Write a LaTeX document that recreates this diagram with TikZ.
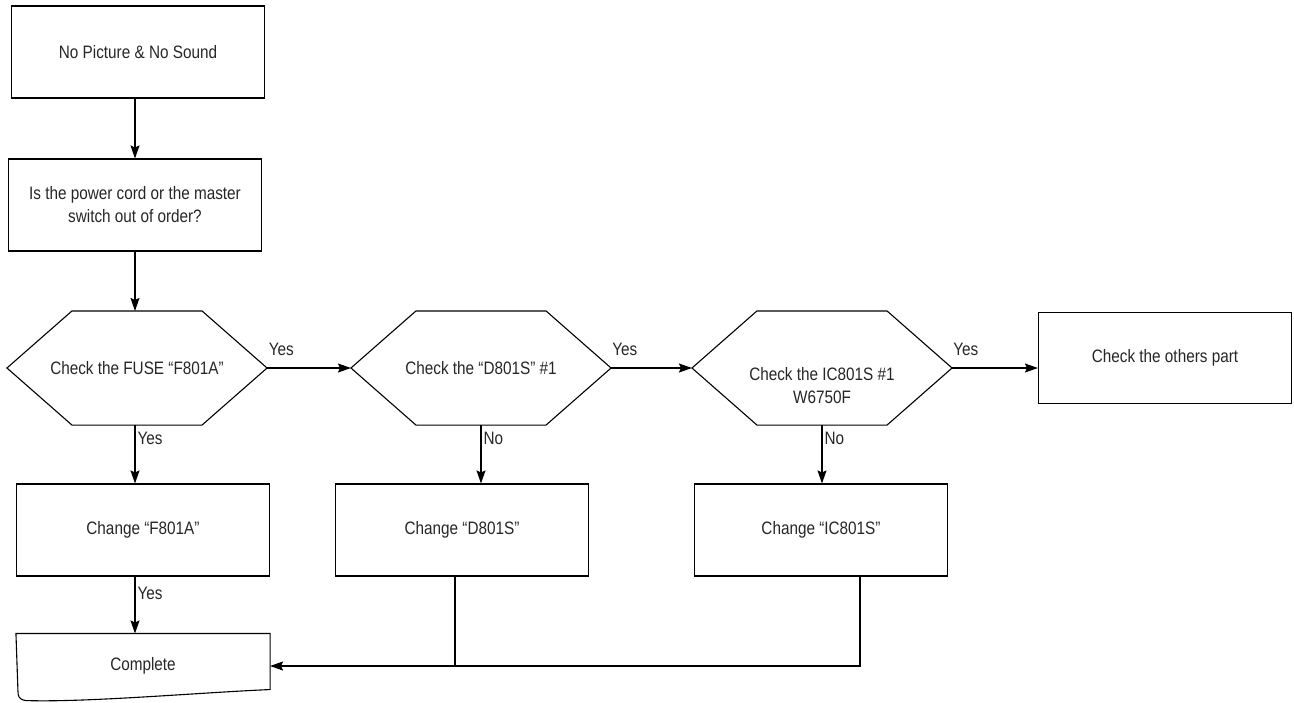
\documentclass[tikz,border=0pt]{standalone}
\usepackage{fontspec}
\setmainfont{Liberation Sans}[FakeStretch=0.85]
\usepackage{xcolor}
\usepackage{tikz}
\usetikzlibrary{arrows.meta, positioning, calc}

\colorlet{ink}{black!85}

\begin{document}
\begin{tikzpicture}[x=1pt, y=-1pt, line width=1.1pt,
	font=\fontsize{18}{23}\selectfont,
	box/.style={draw, minimum width=253pt, minimum height=92pt, align=center, inner sep=0pt, text=ink},
	hexnode/.style={minimum width=259pt, minimum height=113pt, align=center, inner sep=0pt, text=ink},
	arr/.style={-{Stealth[length=13pt, width=9pt, inset=2pt]}},
	lbl/.style={inner sep=2pt, text=ink, font=\fontsize{18}{20}\selectfont}]
	\useasboundingbox (0,0) rectangle (1294,702);
	% top column
	\node[box] (start) at (138,52) {No Picture \& No Sound};
	\node[box] (cord) at (135,205) {Is the power cord or the master\\switch out of order?};
	% checks
	\node[hexnode] (fuse) at (137,368) {Check the FUSE “F801A”};
	\node[hexnode] (diode) at (481,368) {Check the “D801S” \#1};
	\node[hexnode] (ic) at (822,368) {\rule{0pt}{49pt}Check the IC801S \#1\\W6750F};
	\node[box, minimum height=91pt] (others) at (1165,358) {Check the others part};
	\foreach \n in {fuse,diode,ic}
		\draw (\n.west) -- ($(\n.north west)+(65,0)$) -- ($(\n.north east)+(-65,0)$) -- (\n.east)
			-- ($(\n.south east)+(-65,0)$) -- ($(\n.south west)+(65,0)$) -- cycle;
	% changes
	\node[box] (chfuse) at (143,530) {Change “F801A”};
	\node[box] (chdiode) at (462,530) {Change “D801S”};
	\node[box] (chic) at (821,530) {Change “IC801S”};
	\node[minimum width=253pt, minimum height=64pt, inner sep=0pt, text=ink] (done) at (143,666) {Complete};
	\draw (done.north west) -- (done.north east) -- ($(done.south east)+(0,-9)$)
		.. controls ($(done.south east)+(-70,-6)$) and ($(done.south west)+(70,4)$) .. ($(done.south west)+(10,2)$)
		.. controls ($(done.south west)+(3,1)$) and ($(done.south west)+(2,-2)$) .. ($(done.south west)+(2,-8)$) -- cycle;
	% connectors
	\draw[arr] (start.south -| cord) -- (cord.north);
	\draw[arr] (cord.south) -- (fuse.north -| cord);
	\draw[arr] (fuse.south -| cord) -- (chfuse.north -| cord) node[lbl, right, pos=0.23] {Yes};
	\draw[arr] (chfuse.south -| cord) -- (done.north -| cord) node[lbl, right, pos=0.3] {Yes};
	\draw[arr] (fuse.east) -- (diode.west) node[lbl, above=10pt, pos=0.17] {Yes};
	\draw[arr] (diode.east) -- (ic.west) node[lbl, above=10pt, pos=0.17] {Yes};
	\draw[arr] (ic.east) -- (ic.east -| others.west) node[lbl, above=10pt, pos=0.16] {Yes};
	\draw[arr] (diode.south) -- (diode.south |- chdiode.north) node[lbl, right, pos=0.23] {No};
	\draw[arr] (ic.south) -- (ic.south |- chic.north) node[lbl, right, pos=0.23] {No};
	\draw ([xshift=-7pt]chdiode.south) -- ([xshift=-7pt]chdiode.south |- done.east);
	\draw[arr] ([xshift=39pt]chic.south) |- (done.east);
\end{tikzpicture}
\end{document}
